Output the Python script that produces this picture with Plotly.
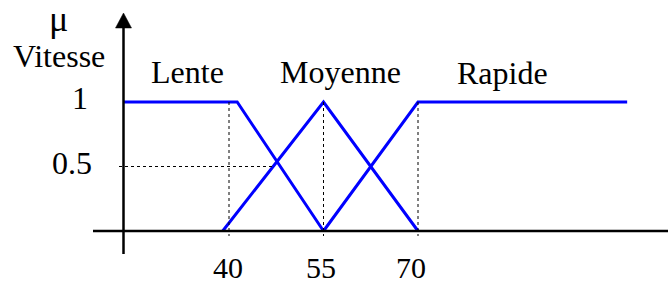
import plotly.graph_objects as go

# ---- data ----
categories = ["Lente", "Moyenne", "Rapide"]
lente_x = [23.3, 41.3, 55]
lente_y = [1, 1, 0]
moyenne_x = [39.0, 55, 70]
moyenne_y = [0, 1, 0]
rapide_x = [55, 70, 103.2]
rapide_y = [0, 1, 1]
tick_values = [40, 55, 70]
tick_labels = ["40", "55", "70"]
ytick_values = [1, 0.5]
ytick_labels = ["1", "0.5"]

W, H = 668, 284
# pixel mapping: 40 -> 229px, 70 -> 418px ; mu 1 -> 102px, 0 -> 231px
pxu = (418 - 229) / 30.0
x0 = 40 - 229 / pxu
x1 = 40 + (W - 229) / pxu
pyu = 129.0
y1 = 231 / pyu
y0 = (231 - H) / pyu

def dx(px):
    return 40 + (px - 229) / pxu

def dy(py):
    return (231 - py) / pyu

yaxis_x = dx(123.5)
fig = go.Figure()

blue = "#0000FF"
for xs, ys, name in [(lente_x, lente_y, categories[0]),
                     (moyenne_x, moyenne_y, categories[1]),
                     (rapide_x, rapide_y, categories[2])]:
    fig.add_trace(go.Scatter(x=xs, y=ys, mode="lines", name=name,
                             line=dict(color=blue, width=3), showlegend=False,
                             hoverinfo="skip"))

# dotted guide lines
for t in tick_values:
    fig.add_trace(go.Scatter(x=[t, t], y=[1, dy(236)], mode="lines",
                             line=dict(color="black", width=1, dash="dot"),
                             showlegend=False, hoverinfo="skip"))
# horizontal 0.5 guide up to Moyenne rising edge
x_half = moyenne_x[0] + (moyenne_x[1] - moyenne_x[0]) * 0.5
fig.add_trace(go.Scatter(x=[dx(119), x_half], y=[0.5, 0.5], mode="lines",
                         line=dict(color="black", width=1, dash="dot"),
                         showlegend=False, hoverinfo="skip"))

# axes
fig.add_trace(go.Scatter(x=[dx(93), x1], y=[0, 0], mode="lines",
                         line=dict(color="black", width=2.5),
                         showlegend=False, hoverinfo="skip"))
fig.add_trace(go.Scatter(x=[yaxis_x, yaxis_x], y=[dy(254), dy(27)], mode="lines",
                         line=dict(color="black", width=2.5),
                         showlegend=False, hoverinfo="skip"))
# arrow head
hw = 8 / pxu
fig.add_trace(go.Scatter(x=[yaxis_x - hw, yaxis_x + hw, yaxis_x, yaxis_x - hw],
                         y=[dy(28), dy(28), dy(13), dy(28)], mode="lines",
                         fill="toself", fillcolor="black",
                         line=dict(color="black", width=0.5),
                         showlegend=False, hoverinfo="skip"))

family = "Liberation Serif, Times New Roman, serif"
font = dict(family=family, size=32, color="black")
ann = []
# x tick labels
tick_shifts = [-1, -2.5, -7]
for v, lab, xs in zip(tick_values, tick_labels, tick_shifts):
    ann.append(dict(x=v, y=dy(267), xref="x", yref="y", text=lab, showarrow=False,
                    xanchor="center", yanchor="middle", xshift=xs,
                    font=dict(family=family, size=30, color="black")))
# y tick labels
yshifts = [-34, -29.5]
for v, lab, xs in zip(ytick_values, ytick_labels, yshifts):
    ann.append(dict(x=yaxis_x, y=v, xref="x", yref="y", text=lab, showarrow=False,
                    xanchor="right", yanchor="middle", xshift=xs, yshift=4, font=font))
# category labels
cat_pos = [(187, 72), (340, 72), (502, 73)]
for lab, (px, py) in zip(categories, cat_pos):
    ann.append(dict(x=px / W, y=1 - py / H, xref="paper", yref="paper", text=lab,
                    showarrow=False, xanchor="center", yanchor="middle", font=font))
# axis title
ann.append(dict(x=58 / W, y=1 - 19 / H, xref="paper", yref="paper", text="μ",
                showarrow=False, xanchor="center", yanchor="middle",
                font=dict(family=family, size=36, color="black")))
ann.append(dict(x=59.5 / W, y=1 - 56 / H, xref="paper", yref="paper", text="Vitesse",
                showarrow=False, xanchor="center", yanchor="middle", font=font))

fig.update_layout(
    width=W, height=H, margin=dict(l=0, r=0, t=0, b=0),
    paper_bgcolor="white", plot_bgcolor="white",
    xaxis=dict(range=[x0, x1], visible=False, fixedrange=True),
    yaxis=dict(range=[y0, y1], visible=False, fixedrange=True),
    annotations=ann,
)

fig.write_html("out.html", config={"displayModeBar": False},
               post_script="document.body.style.margin='0';document.body.style.padding='0';")
